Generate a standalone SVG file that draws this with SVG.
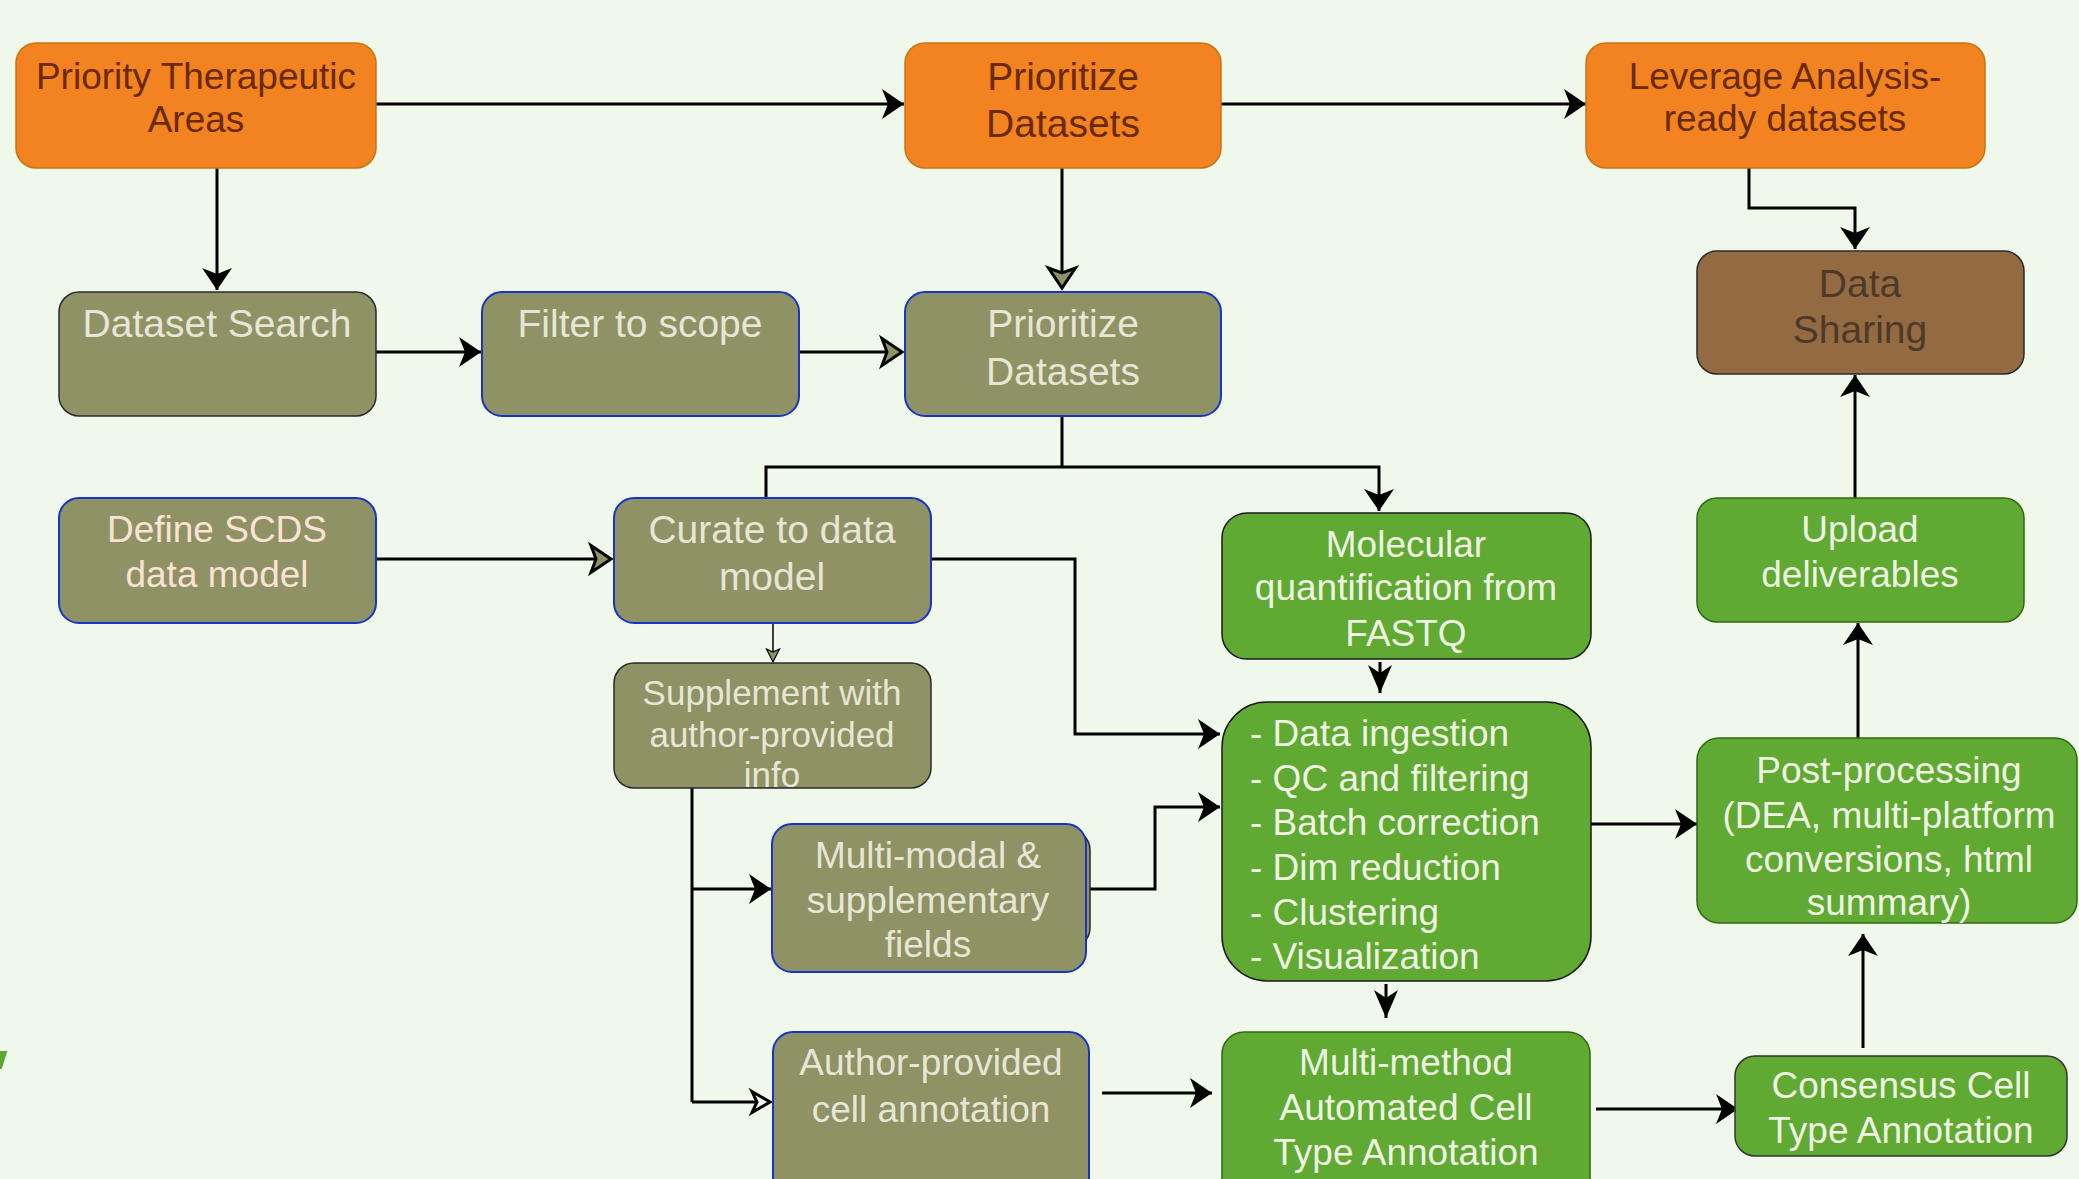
<svg xmlns="http://www.w3.org/2000/svg" width="2079" height="1179" viewBox="0 0 2079 1179">
<style>
text{font-family:"Liberation Sans",Arial,sans-serif;font-size:37px;text-anchor:middle}
text.big{font-size:39px}
.orange{fill:#F38220;stroke:#C47710;stroke-width:1.5}
.olive{fill:#8F9264;stroke:#2A2A2A;stroke-width:1.5}
.oliveb{fill:#8F9264;stroke:#1733C8;stroke-width:2}
.green{fill:#60A932;stroke:#2D6A12;stroke-width:1.5}
.greenk{fill:#60A932;stroke:#1A1A1A;stroke-width:1.5}
.brown{fill:#946A43;stroke:#2A2A2A;stroke-width:1.5}
.to{fill:#6A2A00}
.tl{fill:#E6E6D6}
.tp{fill:#FBE2D4}
.tg{fill:#EEF3E2}
.tb{fill:#4C3A27}
.conn path{fill:none;stroke:#000;stroke-width:3}
.conn path.thin{stroke-width:1.5}
</style>
<defs>
<marker id="ah" markerUnits="userSpaceOnUse" markerWidth="24" markerHeight="30" refX="22" refY="15" orient="auto" overflow="visible">
<path d="M0,0 L22,15 L0,30 L6,15 Z" fill="#000"/>
</marker>
<marker id="ahn" markerUnits="userSpaceOnUse" markerWidth="28" markerHeight="24" refX="28" refY="12" orient="auto" overflow="visible">
<path d="M0,0 L28,12 L0,24 L8,12 Z" fill="#000"/>
</marker>
<marker id="aho" markerUnits="userSpaceOnUse" markerWidth="24" markerHeight="30" refX="6" refY="15" orient="auto" overflow="visible">
<path d="M1,1.5 L21,15 L1,28.5 L6,15 Z" fill="#8F9264" stroke="#000" stroke-width="3" stroke-linejoin="miter"/>
</marker>
<marker id="ahs" markerUnits="userSpaceOnUse" markerWidth="16" markerHeight="16" refX="3" refY="7" orient="auto" overflow="visible">
<path d="M0,0.5 L13,7 L0,13.5 L3,7 Z" fill="#8F9264" stroke="#000" stroke-width="1.2"/>
</marker>
<marker id="ahw" markerUnits="userSpaceOnUse" markerWidth="24" markerHeight="30" refX="6" refY="12" orient="auto" overflow="visible">
<path d="M1,1.5 L19,12 L1,22.5 L6,12 Z" fill="#F0F8EC" stroke="#000" stroke-width="3"/>
</marker>
</defs>
<rect x="0" y="0" width="2079" height="1179" fill="#F0F8EC"/>
<polygon points="0,1051 7.3,1051 1.7,1069 0,1069" fill="#5DA832"/>

<g class="conn" id="connectors">
<path d="M376,104 H904" marker-end="url(#ah)"/>
<path d="M1221,104 H1586" marker-end="url(#ah)"/>
<path d="M217,168 V290" marker-end="url(#ah)"/>
<path d="M1062,168 V273" marker-end="url(#aho)"/>
<path d="M376,352 H481" marker-end="url(#ah)"/>
<path d="M799,352 H887" marker-end="url(#aho)"/>
<path d="M1749,168 V208 H1855 V249" marker-end="url(#ah)"/>
<path d="M1855,498 V375" marker-end="url(#ah)"/>
<path d="M1062,416 V467"/>
<path d="M766,498 V467 H1379 V511" marker-end="url(#ah)"/>
<path d="M376,559 H596" marker-end="url(#aho)"/>
<path d="M931,559 H1075 V734 H1220" marker-end="url(#ah)"/>
<path class="thin" d="M773,623 V652" marker-end="url(#ahs)"/>
<path d="M1380,662 V693" marker-end="url(#ahn)"/>
<path d="M1386,984 V1018" marker-end="url(#ahn)"/>
<path d="M1090,889 H1155 V807 H1220" marker-end="url(#ah)"/>
<path d="M692,788 V1102"/>
<path d="M692,889 H771" marker-end="url(#ah)"/>
<path d="M692,1102 H757" marker-end="url(#ahw)"/>
<path d="M1102,1093 H1212" marker-end="url(#ah)"/>
<path d="M1589,824 H1697" marker-end="url(#ah)"/>
<path d="M1596,1109 H1738" marker-end="url(#ah)"/>
<path d="M1863,1048 V934" marker-end="url(#ah)"/>
<path d="M1858,738 V623" marker-end="url(#ah)"/>
</g>

<g id="priority-therapeutic-areas">
<rect class="orange" x="16" y="43" width="360" height="125" rx="20"/>
<text class="to" x="196" y="89">Priority Therapeutic</text>
<text class="to" x="196" y="132">Areas</text>
</g>
<g id="prioritize-datasets-top">
<rect class="orange" x="905" y="43" width="316" height="125" rx="20"/>
<text class="to big" x="1063" y="90">Prioritize</text>
<text class="to big" x="1063" y="137">Datasets</text>
</g>
<g id="leverage-datasets">
<rect class="orange" x="1586" y="43" width="399" height="125" rx="20"/>
<text class="to" x="1785" y="89">Leverage Analysis-</text>
<text class="to" x="1785" y="131">ready datasets</text>
</g>
<g id="dataset-search">
<rect class="olive" x="59" y="292" width="317" height="124" rx="20"/>
<text class="tl big" x="217" y="337">Dataset Search</text>
</g>
<g id="filter-to-scope">
<rect class="oliveb" x="482" y="292" width="317" height="124" rx="20"/>
<text class="tl big" x="640" y="337">Filter to scope</text>
</g>
<g id="prioritize-datasets-mid">
<rect class="oliveb" x="905" y="292" width="316" height="124" rx="20"/>
<text class="tl big" x="1063" y="337">Prioritize</text>
<text class="tl big" x="1063" y="385">Datasets</text>
</g>
<g id="data-sharing">
<rect class="brown" x="1697" y="251" width="327" height="123" rx="20"/>
<text class="tb big" x="1860" y="297">Data</text>
<text class="tb big" x="1860" y="343">Sharing</text>
</g>
<g id="define-scds">
<rect class="oliveb" x="59" y="498" width="317" height="125" rx="20"/>
<text class="tp" x="217" y="542">Define SCDS</text>
<text class="tp" x="217" y="587">data model</text>
</g>
<g id="curate">
<rect class="oliveb" x="614" y="498" width="317" height="125" rx="20"/>
<text class="tl big" x="772" y="543">Curate to data</text>
<text class="tl big" x="772" y="590">model</text>
</g>
<g id="supplement">
<rect class="olive" x="614" y="663" width="317" height="125" rx="20"/>
<text class="tl" x="772" y="705" style="font-size:35px">Supplement with</text>
<text class="tl" x="772" y="747" style="font-size:35px">author-provided</text>
<text class="tl" x="772" y="787" style="font-size:35px">info</text>
</g>
<g id="molecular">
<rect class="greenk" x="1222" y="513" width="369" height="146" rx="25"/>
<text class="tg" x="1406" y="557">Molecular</text>
<text class="tg" x="1406" y="600">quantification from</text>
<text class="tg" x="1406" y="646">FASTQ</text>
</g>
<g id="upload">
<rect class="green" x="1697" y="498" width="327" height="124" rx="20"/>
<text class="tg" x="1860" y="542">Upload</text>
<text class="tg" x="1860" y="587">deliverables</text>
</g>
<g id="processing">
<rect class="greenk" x="1222" y="702" width="369" height="279" rx="45"/>
<text class="tg" x="1250" y="746" style="text-anchor:start">- Data ingestion</text>
<text class="tg" x="1250" y="791" style="text-anchor:start">- QC and filtering</text>
<text class="tg" x="1250" y="835" style="text-anchor:start">- Batch correction</text>
<text class="tg" x="1250" y="880" style="text-anchor:start">- Dim reduction</text>
<text class="tg" x="1250" y="925" style="text-anchor:start">- Clustering</text>
<text class="tg" x="1250" y="969" style="text-anchor:start">- Visualization</text>
</g>
<g id="post-processing">
<rect class="green" x="1697" y="738" width="380" height="185" rx="22"/>
<text class="tg" x="1889" y="783">Post-processing</text>
<text class="tg" x="1889" y="828">(DEA, multi-platform</text>
<text class="tg" x="1889" y="872">conversions, html</text>
<text class="tg" x="1889" y="915">summary)</text>
</g>
<g id="multi-modal">
<rect class="olive" x="780" y="830" width="310" height="118" rx="20"/>
<rect class="oliveb" x="772" y="824" width="314" height="148" rx="20"/>
<text class="tl" x="928" y="868">Multi-modal &amp;</text>
<text class="tl" x="928" y="913">supplementary</text>
<text class="tl" x="928" y="957">fields</text>
</g>
<g id="author-annotation">
<rect class="oliveb" x="773" y="1032" width="316" height="170" rx="20"/>
<text class="tl" x="931" y="1075">Author-provided</text>
<text class="tl" x="931" y="1122">cell annotation</text>
</g>
<g id="multi-method">
<rect class="green" x="1222" y="1032" width="368" height="170" rx="22"/>
<text class="tg" x="1406" y="1075">Multi-method</text>
<text class="tg" x="1406" y="1120">Automated Cell</text>
<text class="tg" x="1406" y="1165">Type Annotation</text>
</g>
<g id="consensus">
<rect class="green" x="1735" y="1056" width="332" height="100" rx="20" style="stroke:#333"/>
<text class="tg" x="1901" y="1098">Consensus Cell</text>
<text class="tg" x="1901" y="1143">Type Annotation</text>
</g>
</svg>
